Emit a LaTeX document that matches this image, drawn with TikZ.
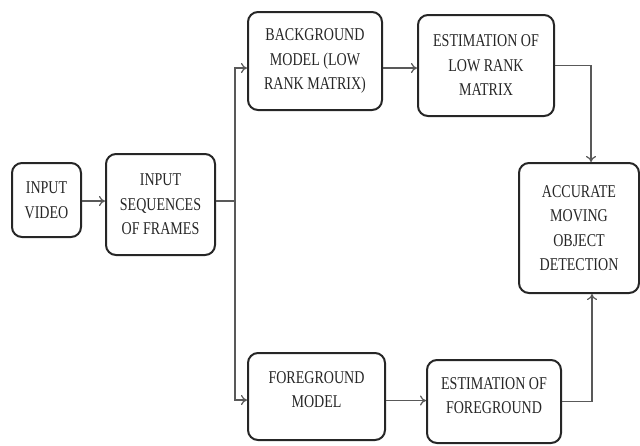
\documentclass[tikz,border=0pt]{standalone}
\usepackage{fontspec}
\setmainfont{Liberation Serif}[FakeStretch=0.78]
\usetikzlibrary{arrows.meta}
\newcommand{\boxfont}{\fontsize{18}{24.5}\selectfont}
\tikzset{
  box/.style={draw=black!85, line width=2pt, rounded corners=10pt, align=center,
    inner sep=0pt, font=\boxfont, text=black!85},
  arr/.style={draw=black!65, line width=1.2pt, -{To[length=6pt,width=10pt]}},
  ln/.style={draw=black!65, line width=1.2pt},
  lbl/.style={align=center, font=\boxfont, text=black!85, inner sep=0pt}
}
\begin{document}
\begin{tikzpicture}[x=1pt,y=-1pt]
\useasboundingbox (0,0) rectangle (640,445);
\node[box, minimum width=69pt, minimum height=74pt] (vid) at (46.5,200) {INPUT\\VIDEO};
\node[box, minimum width=109pt, minimum height=101pt] (seq) at (160.5,204.5) {INPUT\\SEQUENCES\\OF FRAMES};
\node[box, minimum width=134pt, minimum height=98pt] (bg) at (315,61) {BACKGROUND\\MODEL (LOW\\RANK MATRIX)};
\node[box, minimum width=136pt, minimum height=101pt] (estl) at (486,65.5) {ESTIMATION OF\\LOW RANK\\MATRIX};
\node[box, minimum width=120pt, minimum height=130pt] (acc) at (579,228) {ACCURATE\\MOVING\\OBJECT\\DETECTION};
\node[box, minimum width=137pt, minimum height=87pt,
  label={[lbl, yshift=7pt]center:FOREGROUND\\MODEL}] (fg) at (316.5,396.5) {};
\node[box, minimum width=134pt, minimum height=83pt,
  label={[lbl, yshift=6pt]center:ESTIMATION OF\\FOREGROUND}] (estf) at (494,401.5) {};

\draw[arr] ([yshift=-1pt]vid.east) -- ([yshift=-1pt]vid.east -| seq.west);
\draw[ln] ([yshift=3.5pt]seq.east) -- ++(19,0) coordinate (sp);
\draw[arr] (sp) |- ([yshift=-7pt]bg.west);
\draw[arr] (sp) |- ([yshift=-3.5pt]fg.west);
\draw[arr] ([yshift=-7pt]bg.east) -- ([yshift=-7pt]bg.east -| estl.west);
\draw[arr] (estl.east) -| ([xshift=12pt]acc.north);
\draw[arr] ([yshift=-4pt]fg.east) -- ([yshift=-4pt]fg.east -| estf.west);
\draw[arr] (estf.east) -| ([xshift=13pt]acc.south);
\end{tikzpicture}
\end{document}
